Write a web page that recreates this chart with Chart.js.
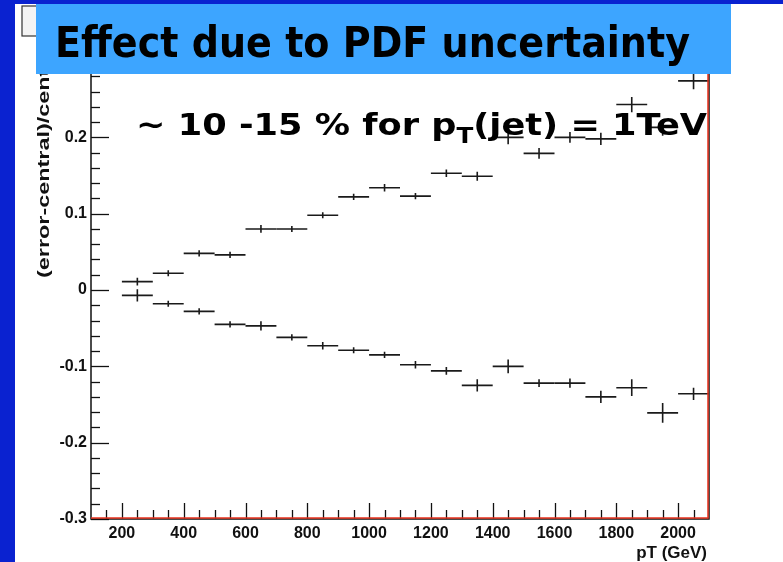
<!DOCTYPE html>
<html>
<head>
<meta charset="utf-8">
<script src="https://cdn.jsdelivr.net/npm/chart.js@4.4.1/dist/chart.umd.min.js"></script>
<style>
  html, body { margin: 0; padding: 0; background: #0a22d0; }
  canvas { display: block; }
</style>
</head>
<body>
<canvas id="myChart" width="783" height="562"></canvas>
<script>
// bin centres (GeV), bins are 100 GeV wide
const binCenters = [250, 350, 450, 550, 650, 750, 850, 950, 1050, 1150, 1250, 1350, 1450, 1550, 1650, 1750, 1850, 1950, 2050];
const binHalfWidth = 50;

// (error-central)/central, upper and lower PDF variations
const upperValues = [0.011, 0.022, 0.048, 0.046, 0.080, 0.080, 0.098, 0.122, 0.134, 0.123, 0.153, 0.149, 0.200, 0.179, 0.200, 0.198, 0.243, 0.213, 0.274];
const upperErrors = [0.005, 0.004, 0.004, 0.004, 0.005, 0.004, 0.004, 0.004, 0.005, 0.004, 0.005, 0.006, 0.009, 0.007, 0.007, 0.008, 0.010, 0.011, 0.011];
const lowerValues = [-0.007, -0.018, -0.028, -0.045, -0.047, -0.062, -0.073, -0.079, -0.085, -0.098, -0.106, -0.125, -0.100, -0.122, -0.122, -0.140, -0.128, -0.161, -0.136];
const lowerErrors = [0.008, 0.004, 0.004, 0.004, 0.006, 0.004, 0.005, 0.004, 0.004, 0.005, 0.005, 0.008, 0.009, 0.005, 0.006, 0.008, 0.011, 0.013, 0.008];

const xMin = 100, xMax = 2100;
const yMin = -0.3, yMax = 0.3;

const titleText = 'Effect due to PDF uncertainty';
const noteParts = ['~ 10 -15 % for p', 'T', '(jet) = 1TeV'];
const yTitle = '(error-central)/central';
const xTitle = 'pT (GeV)';

const toPoints = (vals, errs) => binCenters.map((x, i) => ({ x: x, y: vals[i], err: errs[i] }));

const bg = {
  id: 'bg',
  beforeDraw(chart) {
    const ctx = chart.ctx;
    ctx.save();
    ctx.fillStyle = '#0a22d0';
    ctx.fillRect(0, 0, chart.width, chart.height);
    ctx.fillStyle = '#ffffff';
    ctx.fillRect(15, 4, chart.width - 15, chart.height - 4);
    // little stats box top left
    ctx.fillStyle = '#f4f4f4';
    ctx.fillRect(22, 6, 16, 30);
    ctx.strokeStyle = '#333';
    ctx.lineWidth = 1.2;
    ctx.strokeRect(22, 6, 16, 30);
    ctx.restore();
  }
};

// frame, inward ticks, error crosses
const rootStyle = {
  id: 'rootStyle',
  afterDatasetsDraw(chart) {
    const ctx = chart.ctx;
    const xs = chart.scales.x, ys = chart.scales.y;
    const a = chart.chartArea;
    ctx.save();
    ctx.strokeStyle = '#111';
    ctx.lineWidth = 1.3;
    // y ticks
    for (let k = -15; k <= 15; k++) {
      const v = k * 0.02;
      const py = Math.round(ys.getPixelForValue(v)) + 0.5;
      const len = (k % 5 === 0) ? 18 : 9;
      ctx.beginPath();
      ctx.moveTo(a.left, py);
      ctx.lineTo(a.left + len, py);
      ctx.stroke();
    }
    // x ticks
    for (let v = 150; v < xMax; v += 50) {
      const px = Math.round(xs.getPixelForValue(v)) + 0.5;
      const len = (v % 200 === 0) ? 16 : 9;
      ctx.beginPath();
      ctx.moveTo(px, a.bottom);
      ctx.lineTo(px, a.bottom - len);
      ctx.stroke();
    }
    // error crosses
    ctx.strokeStyle = '#1a1a1a';
    ctx.lineWidth = 1.6;
    chart.data.datasets.forEach(ds => {
      ds.data.forEach(p => {
        const x0 = xs.getPixelForValue(p.x - binHalfWidth);
        const x1 = xs.getPixelForValue(p.x + binHalfWidth);
        const xc = xs.getPixelForValue(p.x);
        const yc = ys.getPixelForValue(p.y);
        const yt = ys.getPixelForValue(p.y + p.err);
        const yb = ys.getPixelForValue(p.y - p.err);
        ctx.beginPath();
        ctx.moveTo(x0, yc);
        ctx.lineTo(x1, yc);
        ctx.moveTo(xc, yt);
        ctx.lineTo(xc, yb);
        ctx.stroke();
      });
    });
    // frame
    ctx.strokeStyle = '#111';
    ctx.lineWidth = 1.5;
    ctx.beginPath();
    ctx.moveTo(a.left, a.top);
    ctx.lineTo(a.left, a.bottom);
    ctx.lineTo(a.right, a.bottom);
    ctx.lineTo(a.right, a.top);
    ctx.lineTo(a.left, a.top);
    ctx.stroke();
    ctx.strokeStyle = '#e8321e';
    ctx.lineWidth = 1.5;
    ctx.beginPath();
    ctx.moveTo(a.left, a.bottom - 1);
    ctx.lineTo(a.right - 1, a.bottom - 1);
    ctx.lineTo(a.right - 1, a.top);
    ctx.stroke();
    ctx.restore();
  },
  afterDraw(chart) {
    const ctx = chart.ctx;
    ctx.save();
    // axis titles
    ctx.fillStyle = '#111';
    ctx.font = 'bold 16px "Liberation Sans", Arial, sans-serif';
    const wy = ctx.measureText(yTitle).width;
    ctx.translate(49, 278);
    ctx.rotate(-Math.PI / 2);
    ctx.scale(238 / wy, 1);
    ctx.textAlign = 'left';
    ctx.textBaseline = 'alphabetic';
    ctx.fillText(yTitle, 0, 0);
    ctx.setTransform(1, 0, 0, 1, 0, 0);
    ctx.font = 'bold 17px "Liberation Sans", Arial, sans-serif';
    ctx.textAlign = 'right';
    ctx.fillText(xTitle, 707, 558);

    // title box
    ctx.fillStyle = '#3da5ff';
    ctx.fillRect(36, 4, 695, 70);
    ctx.fillStyle = '#000';
    ctx.textAlign = 'left';
    ctx.font = 'bold 42px "DejaVu Sans", sans-serif';
    let w = ctx.measureText(titleText).width;
    ctx.translate(55, 57);
    ctx.scale(635 / w, 1);
    ctx.fillText(titleText, 0, 0);
    ctx.setTransform(1, 0, 0, 1, 0, 0);

    // note with subscript
    const big = 'bold 30px "DejaVu Sans", sans-serif';
    const small = 'bold 21px "DejaVu Sans", sans-serif';
    ctx.font = big;
    const w0 = ctx.measureText(noteParts[0]).width;
    const w2 = ctx.measureText(noteParts[2]).width;
    ctx.font = small;
    const w1 = ctx.measureText(noteParts[1]).width;
    const sx = 571 / (w0 + w1 + w2);
    ctx.translate(136, 135);
    ctx.scale(sx, 1);
    ctx.font = big;
    ctx.fillText(noteParts[0], 0, 0);
    ctx.font = small;
    ctx.fillText(noteParts[1], w0, 8);
    ctx.font = big;
    ctx.fillText(noteParts[2], w0 + w1, 0);
    ctx.restore();
  }
};

const tickFont = { family: '"Liberation Sans", Arial, sans-serif', size: 16, weight: 'bold' };

new Chart(document.getElementById('myChart').getContext('2d'), {
  type: 'scatter',
  data: {
    datasets: [
      { label: 'upper', data: toPoints(upperValues, upperErrors), pointRadius: 0, showLine: false },
      { label: 'lower', data: toPoints(lowerValues, lowerErrors), pointRadius: 0, showLine: false }
    ]
  },
  options: {
    responsive: false,
    animation: false,
    layout: { padding: { left: 0, right: 74, top: 61, bottom: 0 } },
    plugins: { legend: { display: false }, tooltip: { enabled: false } },
    scales: {
      x: {
        type: 'linear',
        min: xMin,
        max: xMax,
        grid: { display: false, drawTicks: false },
        border: { display: false },
        ticks: {
          stepSize: 100,
          padding: 5,
          color: '#111',
          font: tickFont,
          maxRotation: 0,
          autoSkip: false,
          callback: v => (v % 200 === 0 ? String(v) : '')
        },
        afterFit: s => { s.height = 43; }
      },
      y: {
        min: yMin,
        max: yMax,
        grid: { display: false, drawTicks: false },
        border: { display: false },
        ticks: {
          stepSize: 0.1,
          padding: 4,
          color: '#111',
          font: tickFont,
          callback: v => {
            const r = Math.round(v * 10) / 10;
            return r === 0 ? '0' : String(r);
          }
        },
        afterFit: s => { s.width = 91; }
      }
    }
  },
  plugins: [bg, rootStyle]
});
</script>
</body>
</html>
